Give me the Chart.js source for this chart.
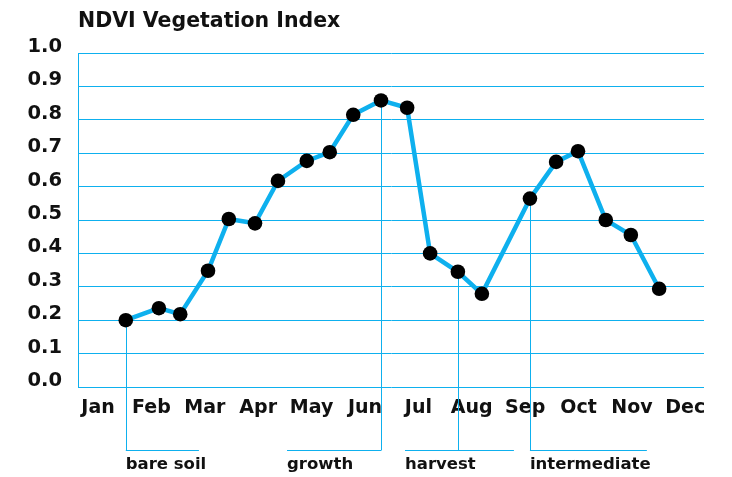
<!DOCTYPE html>
<html>
<head>
<meta charset="utf-8">
<script src="https://cdn.jsdelivr.net/npm/chart.js@4"></script>
<style>
  html, body { margin: 0; padding: 0; background: #fff; }
  #wrap { width: 732px; height: 477px; }
</style>
</head>
<body>
<div id="wrap"><canvas id="ndviChart" width="732" height="477"></canvas></div>
<script>
// Month names along the bottom axis
const months = ['Jan', 'Feb', 'Mar', 'Apr', 'May', 'Jun', 'Jul', 'Aug', 'Sep', 'Oct', 'Nov', 'Dec'];
// Y tick labels
const yTicks = [0.0, 0.1, 0.2, 0.3, 0.4, 0.5, 0.6, 0.7, 0.8, 0.9, 1.0];

// Sample dates (in months, 0 = Jan) and NDVI readings
const sampleMonth = [0.52, 1.14, 1.54, 2.06, 2.45, 2.94, 3.37, 3.91, 4.34, 4.78, 5.30,
                     5.79, 6.22, 6.74, 7.19, 8.09, 8.58, 8.99, 9.51, 9.98, 10.51];
const ndvi = [0.20, 0.236, 0.218, 0.348, 0.503, 0.49, 0.617, 0.677, 0.703, 0.815, 0.858,
              0.836, 0.40, 0.345, 0.279, 0.564, 0.674, 0.706, 0.50, 0.455, 0.294];

// Crop phases: name, sample it points at, span (months)
const phaseNames = ['bare soil', 'growth', 'harvest', 'intermediate'];
const phaseAnchor = [0, 10, 13, 15];
const phaseStart = [0.52, 3.54, 5.75, 8.09];
const phaseEnd = [1.89, 5.30, 7.79, 10.28];

const cyan = '#0eb0ee';
const font = "'DejaVu Sans', sans-serif";

const points = sampleMonth.map((m, i) => ({ x: m, y: ndvi[i] }));

// draws the title, the phase brackets and their labels
const phasePlugin = {
  id: 'phases',
  beforeDatasetsDraw(chart) {
    const ctx = chart.ctx;
    const xs = chart.scales.x, ys = chart.scales.y;
    const lineY = chart.chartArea.bottom + 63.5;
    ctx.save();
    ctx.strokeStyle = cyan;
    ctx.lineWidth = 1;
    phaseNames.forEach((name, i) => {
      const a = phaseAnchor[i];
      const ax = Math.round(xs.getPixelForValue(sampleMonth[a])) + 0.5;
      ctx.beginPath();
      ctx.moveTo(ax, ys.getPixelForValue(ndvi[a]));
      ctx.lineTo(ax, lineY);
      ctx.moveTo(xs.getPixelForValue(phaseStart[i]), lineY);
      ctx.lineTo(xs.getPixelForValue(phaseEnd[i]), lineY);
      ctx.stroke();
    });
    ctx.restore();
  },
  afterDraw(chart) {
    const ctx = chart.ctx;
    const xs = chart.scales.x;
    ctx.save();
    ctx.fillStyle = '#111';
    ctx.textBaseline = 'alphabetic';
    ctx.textAlign = 'left';
    ctx.font = 'bold 16.5px ' + font;
    phaseNames.forEach((name, i) => {
      ctx.fillText(name, xs.getPixelForValue(phaseStart[i]), chart.chartArea.bottom + 82);
    });
    ctx.font = 'bold 20.5px ' + font;
    ctx.fillText('NDVI Vegetation Index', chart.chartArea.left, 27);
    ctx.restore();
  }
};

new Chart(document.getElementById('ndviChart').getContext('2d'), {
  type: 'line',
  data: {
    datasets: [{
      label: 'NDVI',
      data: points,
      borderColor: cyan,
      borderWidth: 4.5,
      pointRadius: 7.3,
      pointBackgroundColor: '#000',
      pointBorderColor: '#000',
      pointBorderWidth: 0,
      tension: 0,
      clip: false
    }]
  },
  options: {
    responsive: false,
    animation: false,
    layout: { padding: { top: 53, right: 28, left: 0, bottom: 0 } },
    plugins: {
      legend: { display: false },
      tooltip: { enabled: false }
    },
    scales: {
      x: {
        type: 'linear',
        min: -0.375,
        max: 11.35,
        afterBuildTicks: (scale) => { scale.ticks = months.map((m, i) => ({ value: i })); },
        afterFit: (scale) => { scale.height = 90; },
        grid: { display: false, drawTicks: false },
        border: { display: false },
        ticks: {
          padding: 10,
          color: '#111',
          font: { family: font, size: 19, weight: 'bold' },
          maxRotation: 0,
          autoSkip: false,
          callback: (v) => months[v]
        }
      },
      y: {
        min: 0,
        max: 1,
        afterBuildTicks: (scale) => { scale.ticks = yTicks.map(v => ({ value: v })); },
        afterFit: (scale) => { scale.width = 78; },
        grid: { color: cyan, lineWidth: 1, drawTicks: false },
        border: { display: true, color: cyan, width: 1 },
        ticks: {
          padding: 16,
          labelOffset: -6,
          color: '#111',
          font: { family: font, size: 19.5, weight: 'bold' },
          callback: (v) => v.toFixed(1)
        }
      }
    }
  },
  plugins: [phasePlugin]
});
</script>
</body>
</html>
